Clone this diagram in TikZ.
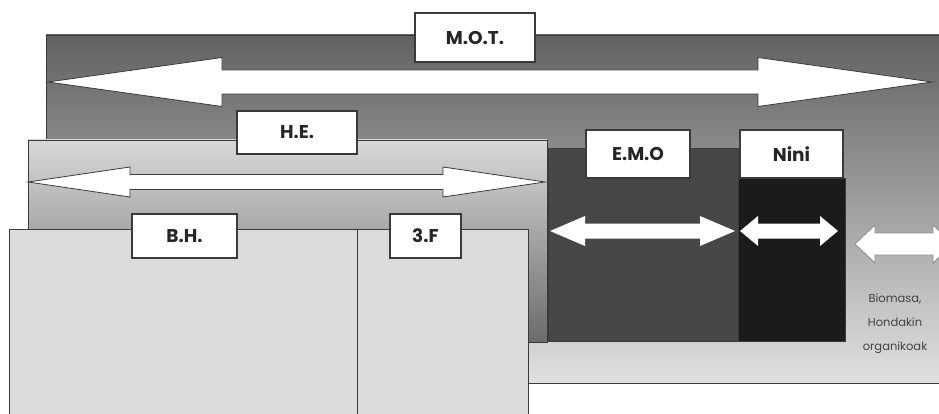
\documentclass[tikz,border=0pt]{standalone}
\usepackage{fontspec}
\setmainfont{Poppins}
\definecolor{edge}{HTML}{3A3A3A}
\definecolor{emofill}{HTML}{474747}
\definecolor{ninifill}{HTML}{1B1B1B}
\definecolor{paper}{HTML}{DCDCDC}
\definecolor{notegray}{HTML}{444444}
% double-headed block arrow: x1, x2, y, head length, head half-height, shaft half-height, style
\newcommand\blockdarrow[7]{%
  \path[#7] (#1,#3) -- (#1+#4,#3-#5) -- (#1+#4,#3-#6) -- (#2-#4,#3-#6)
    -- (#2-#4,#3-#5) -- (#2,#3) -- (#2-#4,#3+#5) -- (#2-#4,#3+#6)
    -- (#1+#4,#3+#6) -- (#1+#4,#3+#5) -- cycle;}
\begin{document}
\begin{tikzpicture}[x=1pt,y=-1pt,
  frame/.style={draw=edge,line width=0.9pt},
  tag/.style={draw=edge,line width=1.2pt,fill=white,inner sep=0pt,
    font=\fontsize{18.5}{20}\selectfont\bfseries,text=black!85},
  outlined/.style={fill=white,draw=edge,line width=0.8pt},
  plain/.style={fill=white}]
\useasboundingbox (0,0) rectangle (939,414);
\clip (0,0) rectangle (939,414);

% outer band
\path[frame,top color=black!62,middle color=black!40,bottom color=black!12]
  (46,35) rectangle (960,383);
\blockdarrow{48}{932}{82}{174}{24.5}{12}{outlined}

% second band
\path[frame,top color=black!15,middle color=black!26,bottom color=black!58]
  (28,140) rectangle (547,342);
\blockdarrow{28}{545}{182}{102}{15}{7.5}{outlined}

% dark columns
\path[frame,fill=emofill] (548,148) rectangle (738,341);
\path[frame,fill=ninifill] (738,178) rectangle (845,341);
\blockdarrow{550}{735}{231}{35}{15}{7.5}{plain}
\blockdarrow{740}{838}{231}{18}{15}{7.5}{plain}

% open arrow at the right
\blockdarrow{855}{953}{244}{20}{19}{11}{fill=white,draw=black!45,line width=0.8pt}
\node[align=center,text=notegray,font=\fontsize{11.5}{24}\selectfont]
  (bio) at (895,324) {Biomasa,\\Hondakin\\organikoak};

% front panels
\path[frame,fill=paper] (9,229) rectangle (357,430);
\path[frame,fill=paper] (357,229) rectangle (528,430);

% labels
\node[tag,minimum width=120pt,minimum height=49pt] (mot) at (475,37.5) {M.O.T.};
\node[tag,minimum width=120pt,minimum height=43pt] (he) at (297,132.5) {H.E.};
\node[tag,minimum width=104pt,minimum height=48pt] (emo) at (638,154) {E.M.O};
\node[tag,minimum width=103pt,minimum height=48pt] (nini) at (791.5,154) {Nini};
\node[tag,minimum width=105pt,minimum height=44pt] (bh) at (184.5,236) {B.H.};
\node[tag,minimum width=71pt,minimum height=44pt] (tf) at (425.5,236) {3.F};
\end{tikzpicture}
\end{document}
